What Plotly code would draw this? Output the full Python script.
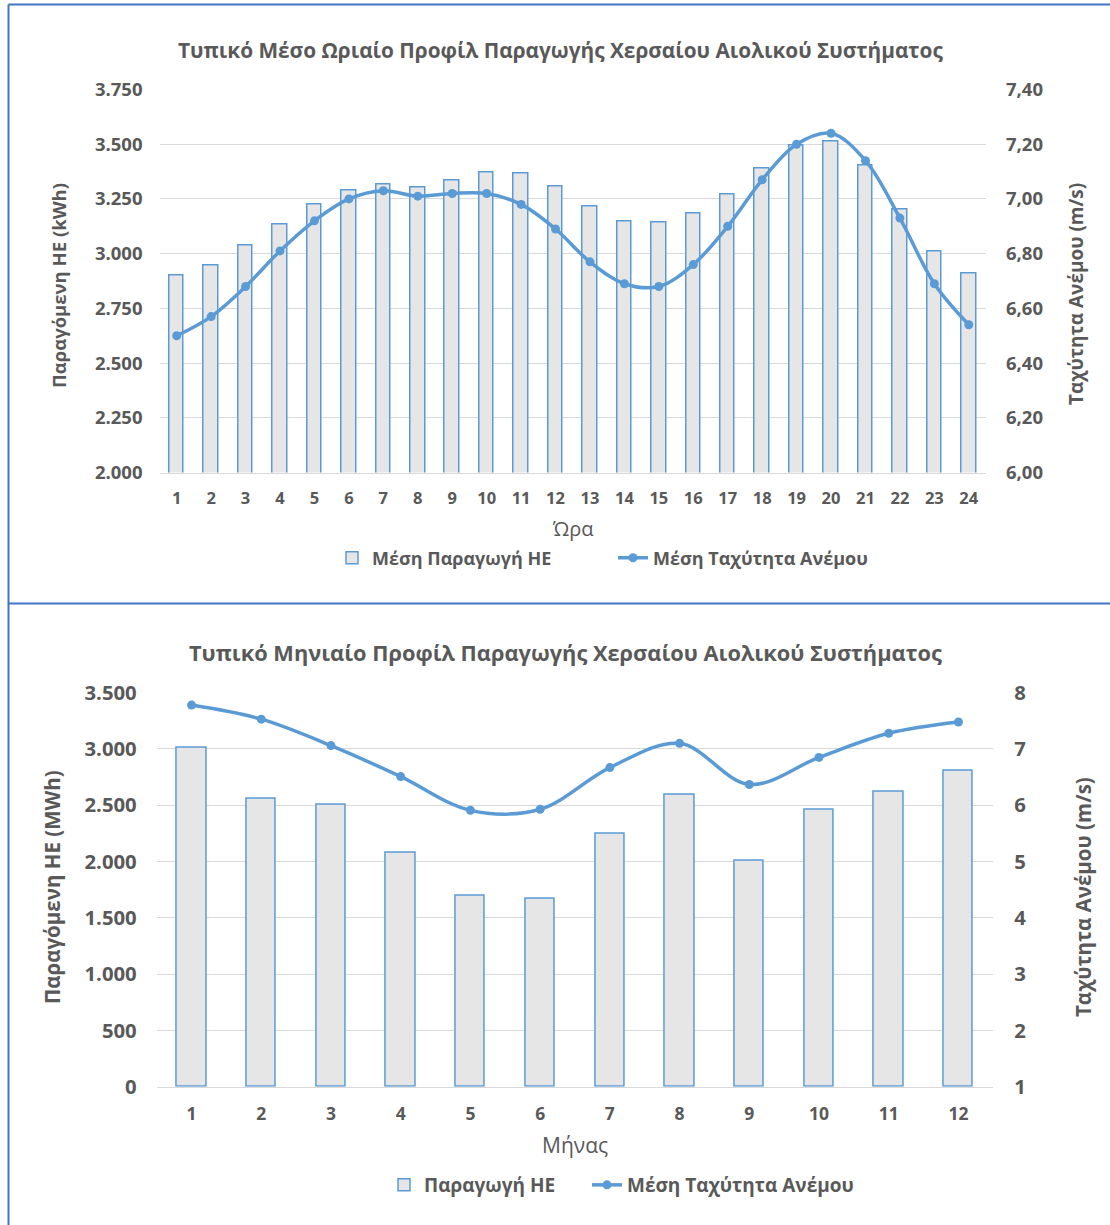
import plotly.graph_objects as go

# ---- data: hourly profile ----
hours = list(range(1, 25))
hourly_energy_kwh = [2898, 2948, 3039, 3135, 3226, 3290, 3317, 3303, 3335, 3372, 3367, 3308,
                     3217, 3148, 3144, 3185, 3271, 3390, 3495, 3513, 3404, 3203, 3012, 2911]
hourly_wind_ms = [6.50, 6.57, 6.68, 6.81, 6.92, 7.00, 7.03, 7.01, 7.02, 7.02, 6.98, 6.89,
                  6.77, 6.69, 6.68, 6.76, 6.90, 7.07, 7.20, 7.24, 7.14, 6.93, 6.69, 6.54]

# ---- data: monthly profile ----
months = list(range(1, 13))
monthly_energy_mwh = [3015, 2562, 2505, 2076, 1694, 1668, 2245, 2594, 2005, 2458, 2618, 2811]
monthly_wind_ms = [7.78, 7.53, 7.06, 6.51, 5.91, 5.93, 6.67, 7.10, 6.37, 6.85, 7.28, 7.48]

W, H = 1110, 1225
FONT = "Open Sans"
GREY = "#595959"
BLUE = "#5B9BD5"
BAR_FILL = "#E7E6E6"
GRID = "#D9D9D9"


def px(x):
    return x / W


def py(y):
    return 1 - y / H


fig = go.Figure()

# top chart
fig.add_trace(go.Bar(x=hours, y=hourly_energy_kwh, name="Μέση Παραγωγή ΗΕ",
                     marker=dict(color=BAR_FILL, line=dict(color=BLUE, width=1.5)),
                     width=0.42, xaxis="x", yaxis="y", legend="legend"))
fig.add_trace(go.Scatter(x=hours, y=hourly_wind_ms, name="Μέση Ταχύτητα Ανέμου",
                         mode="lines+markers", line=dict(color=BLUE, width=3.5, shape="spline", smoothing=1),
                         marker=dict(color=BLUE, size=9), xaxis="x", yaxis="y2", legend="legend2"))

# bottom chart
fig.add_trace(go.Bar(x=months, y=monthly_energy_mwh, name="Παραγωγή ΗΕ",
                     marker=dict(color=BAR_FILL, line=dict(color=BLUE, width=1.5)),
                     width=0.42, xaxis="x2", yaxis="y3", legend="legend3"))
fig.add_trace(go.Scatter(x=months, y=monthly_wind_ms, name="Μέση Ταχύτητα Ανέμου",
                         mode="lines+markers", line=dict(color=BLUE, width=3.5, shape="spline", smoothing=1),
                         marker=dict(color=BLUE, size=9), xaxis="x2", yaxis="y4", legend="legend4"))

tick_top = dict(family=FONT, size=18.5, color=GREY, weight="bold")
xtick_top = dict(family=FONT, size=16.5, color=GREY, weight="bold")
tick_bot = dict(family=FONT, size=20.3, color=GREY, weight="bold")
xtick_bot = dict(family=FONT, size=17.5, color=GREY, weight="bold")


def leg(x, y, size):
    return dict(orientation="h", x=px(x), y=py(y), xanchor="left", yanchor="middle",
                font=dict(family=FONT, size=size, color=GREY, weight="bold"),
                bgcolor="rgba(0,0,0,0)")


fig.update_layout(
    template="none",
    width=W, height=H,
    margin=dict(l=0, r=0, t=0, b=0, autoexpand=False),
    paper_bgcolor="white", plot_bgcolor="white",
    separators=",.",
    showlegend=True,
    bargap=0,
    xaxis=dict(domain=[px(159.5), px(986)], anchor="y", range=[0.5, 24.5], tickvals=hours,
               showgrid=False, showline=True, linecolor=GRID, linewidth=1, ticks="",
               tickfont=xtick_top, ticklabelstandoff=11, automargin=False),
    yaxis=dict(domain=[py(472.5), py(89.5)], anchor="x", range=[2000, 3750], dtick=250,
               tickformat=",d", showgrid=True, gridcolor=GRID, gridwidth=1, zeroline=False,
               ticks="", tickfont=tick_top, ticklabelstandoff=16, automargin=False),
    yaxis2=dict(overlaying="y", side="right", anchor="x", range=[6.0, 7.4], dtick=0.2,
                tickformat=".2f", showgrid=False, zeroline=False, ticks="",
                tickfont=tick_top, ticklabelstandoff=19, automargin=False),
    xaxis2=dict(domain=[px(156.7), px(993.3)], anchor="y3", range=[0.5, 12.5], tickvals=months,
                showgrid=False, showline=True, linecolor=GRID, linewidth=1, ticks="",
                tickfont=xtick_bot, ticklabelstandoff=11, automargin=False),
    yaxis3=dict(domain=[py(1086.7), py(692.7)], anchor="x2", range=[0, 3500], dtick=500,
                tickformat=",d", showgrid=True, gridcolor=GRID, gridwidth=1, zeroline=False,
                ticks="", tickfont=tick_bot, ticklabelstandoff=19, automargin=False),
    yaxis4=dict(overlaying="y3", side="right", anchor="x2", range=[1, 8], dtick=1,
                tickformat="d", showgrid=False, zeroline=False, ticks="",
                tickfont=tick_bot, ticklabelstandoff=20, automargin=False),
    legend=leg(332, 558, 18),
    legend2=leg(613, 558, 18),
    legend3=leg(384, 1185, 19),
    legend4=leg(587, 1185, 19),
    hovermode=False,
)

axis_title_top = dict(family=FONT, size=18.5, color=GREY, weight="bold")
axis_title_top_r = dict(family=FONT, size=19, color=GREY, weight="bold")
axis_title_bot = dict(family=FONT, size=20.5, color=GREY, weight="bold")

annotations = [
    dict(text="Τυπικό Μέσο Ωριαίο Προφίλ Παραγωγής Χερσαίου Αιολικού Συστήματος",
         x=px(561), y=py(50), font=dict(family=FONT, size=20.8, color=GREY, weight="bold")),
    dict(text="Παραγόμενη ΗΕ (kWh)", x=px(58), y=py(286), textangle=-90, font=axis_title_top),
    dict(text="Ταχύτητα Ανέμου (m/s)", x=px(1076), y=py(294), textangle=-90, font=axis_title_top_r),
    dict(text="Ώρα", x=px(573), y=py(528), font=dict(family=FONT, size=20, color=GREY)),
    dict(text="Τυπικό Μηνιαίο Προφίλ Παραγωγής Χερσαίου Αιολικού Συστήματος",
         x=px(565), y=py(652), font=dict(family=FONT, size=21.8, color=GREY, weight="bold")),
    dict(text="Παραγόμενη ΗΕ (MWh)", x=px(52), y=py(887), textangle=-90, font=axis_title_bot),
    dict(text="Ταχύτητα Ανέμου (m/s)", x=px(1083), y=py(897), textangle=-90, font=axis_title_bot),
    dict(text="Μήνας", x=px(575), y=py(1145), font=dict(family=FONT, size=21, color=GREY)),
]
for a in annotations:
    a.update(xref="paper", yref="paper", showarrow=False, xanchor="center", yanchor="middle")
fig.update_layout(annotations=annotations)

border = dict(color="#4472C4", width=2)
fig.update_layout(shapes=[
    dict(type="line", xref="paper", yref="paper", x0=px(8.5), x1=1, y0=py(4.5), y1=py(4.5), line=border),
    dict(type="line", xref="paper", yref="paper", x0=px(8.5), x1=1, y0=py(603.5), y1=py(603.5), line=border),
    dict(type="line", xref="paper", yref="paper", x0=px(8.5), x1=px(8.5), y0=0, y1=py(4.5), line=border),
])

fig.write_html("out.html", config={"displayModeBar": False},
               post_script="document.body.style.margin='0';document.body.style.overflow='hidden';")
